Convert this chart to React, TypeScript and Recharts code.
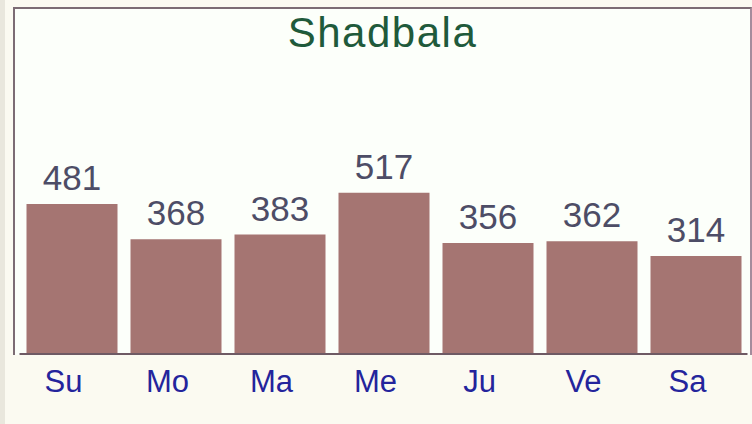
import { BarChart, Bar, XAxis, YAxis, LabelList } from "recharts";

const planets = ["Su", "Mo", "Ma", "Me", "Ju", "Ve", "Sa"];
const shadbala = [481, 368, 383, 517, 356, 362, 314];

const data = planets.map((name, i) => ({ name, value: shadbala[i] }));

const FONT = "'Liberation Sans', Arial, sans-serif";

function PlanetTick(props: any) {
  const { x, y, payload } = props;
  return (
    <text
      x={x - 8}
      y={y}
      dy={31 * 0.71}
      textAnchor="middle"
      fontFamily={FONT}
      fontSize={31}
      fill="#24249c"
    >
      {payload.value}
    </text>
  );
}

export default function App() {
  return (
    <div
      style={{
        position: "absolute",
        left: 0,
        top: 0,
        width: 752,
        height: 424,
        background: "#fbfaf1",
        overflow: "hidden",
      }}
    >
      <div
        style={{
          position: "absolute",
          left: 0,
          top: 0,
          width: 5,
          height: 424,
          background: "#e9e7dd",
        }}
      />
      <div
        style={{
          position: "absolute",
          left: 13,
          top: 7,
          width: 735,
          height: 346,
          background: "#fcfffa",
          borderTop: "2px solid #7c6c74",
          borderLeft: "2px solid #7c6c74",
          borderRight: "2px solid #a48c9c",
        }}
      />
      <div
        style={{
          position: "absolute",
          left: 0,
          top: 12,
          width: 765,
          textAlign: "center",
          fontFamily: FONT,
          fontSize: 42,
          lineHeight: "42px",
          letterSpacing: 1.5,
          color: "#1f5a3b",
        }}
      >
        Shadbala
      </div>
      <div style={{ position: "absolute", left: 0, top: 0 }}>
        <BarChart
          width={752}
          height={424}
          data={data}
          margin={{ top: 8, right: 4.5, bottom: 0, left: 19.5 }}
        >
          <XAxis
            dataKey="name"
            height={70}
            axisLine={{ stroke: "#6e5a64", strokeWidth: 2 }}
            tickLine={false}
            tickSize={0}
            tickMargin={16}
            tick={<PlanetTick />}
            interval={0}
          />
          <YAxis hide domain={[0, 1110]} />
          <Bar dataKey="value" fill="#a57572" barSize={91} isAnimationActive={false}>
            <LabelList
              dataKey="value"
              position="top"
              offset={14}
              fontFamily={FONT}
              fontSize={35}
              fill="#4d4d66"
            />
          </Bar>
        </BarChart>
      </div>
    </div>
  );
}
